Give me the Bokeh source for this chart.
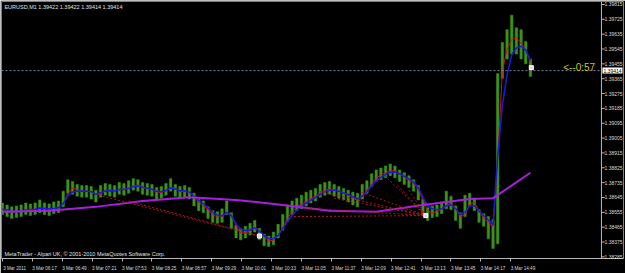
import pandas as pd
from bokeh.plotting import figure
from bokeh.models import FixedTicker, PrintfTickFormatter, Span, Label
from bokeh.embed import file_html
from bokeh.resources import INLINE

# ---- data (EURUSD M1, sampled every 5 minutes, minutes after 05:45) ----
bar_step = 5
close = [1.38576, 1.38565, 1.38553, 1.38559, 1.38565, 1.38576, 1.38571, 1.38576, 1.38588, 1.38576,
         1.38571, 1.38582, 1.38588, 1.38630, 1.38706, 1.38700, 1.38689, 1.38683, 1.38683, 1.38677,
         1.38647, 1.38683, 1.38694, 1.38689, 1.38683, 1.38700, 1.38694, 1.38706, 1.38724, 1.38718,
         1.38700, 1.38694, 1.38689, 1.38671, 1.38677, 1.38694, 1.38718, 1.38689, 1.38677, 1.38683,
         1.38671, 1.38630, 1.38600, 1.38588, 1.38553, 1.38529, 1.38523, 1.38529, 1.38576, 1.38512,
         1.38435, 1.38423, 1.38435, 1.38453, 1.38470, 1.38423, 1.38388, 1.38376, 1.38394, 1.38435,
         1.38494, 1.38541, 1.38576, 1.38600, 1.38612, 1.38630, 1.38647, 1.38659, 1.38683, 1.38694,
         1.38700, 1.38689, 1.38677, 1.38665, 1.38653, 1.38635, 1.38624, 1.38671, 1.38706, 1.38747,
         1.38777, 1.38789, 1.38801, 1.38812, 1.38801, 1.38777, 1.38759, 1.38742, 1.38718, 1.38671,
         1.38588, 1.38541, 1.38559, 1.38565, 1.38582, 1.38612, 1.38606, 1.38553, 1.38506, 1.38571,
         1.38630, 1.38600, 1.38529, 1.38506, 1.38482, 1.38453, 1.39308, 1.39514, 1.39573, 1.39632,
         1.39591, 1.39573, 1.39514, 1.39414]
high = [1.38612, 1.38600, 1.38588, 1.38594, 1.38600, 1.38612, 1.38606, 1.38612, 1.38630, 1.38612,
        1.38606, 1.38618, 1.38624, 1.38683, 1.38753, 1.38742, 1.38724, 1.38718, 1.38718, 1.38712,
        1.38689, 1.38718, 1.38730, 1.38724, 1.38718, 1.38736, 1.38730, 1.38747, 1.38759, 1.38753,
        1.38736, 1.38730, 1.38724, 1.38706, 1.38712, 1.38730, 1.38759, 1.38724, 1.38712, 1.38718,
        1.38706, 1.38671, 1.38635, 1.38624, 1.38588, 1.38565, 1.38559, 1.38576, 1.38624, 1.38553,
        1.38476, 1.38458, 1.38470, 1.38488, 1.38506, 1.38458, 1.38423, 1.38411, 1.38435, 1.38482,
        1.38541, 1.38600, 1.38624, 1.38641, 1.38659, 1.38677, 1.38689, 1.38700, 1.38724, 1.38736,
        1.38742, 1.38724, 1.38712, 1.38700, 1.38689, 1.38677, 1.38671, 1.38724, 1.38747, 1.38789,
        1.38812, 1.38824, 1.38836, 1.38848, 1.38836, 1.38812, 1.38795, 1.38777, 1.38753, 1.38718,
        1.38635, 1.38582, 1.38594, 1.38600, 1.38618, 1.38683, 1.38653, 1.38594, 1.38553, 1.38659,
        1.38671, 1.38641, 1.38571, 1.38547, 1.38529, 1.38512, 1.39396, 1.39585, 1.39662, 1.39750,
        1.39674, 1.39662, 1.39591, 1.39485]
low = [1.38541, 1.38529, 1.38518, 1.38523, 1.38529, 1.38541, 1.38535, 1.38541, 1.38553, 1.38541,
       1.38535, 1.38547, 1.38553, 1.38588, 1.38671, 1.38665, 1.38653, 1.38647, 1.38647, 1.38635,
       1.38618, 1.38647, 1.38659, 1.38653, 1.38647, 1.38665, 1.38659, 1.38671, 1.38689, 1.38683,
       1.38665, 1.38659, 1.38653, 1.38635, 1.38641, 1.38659, 1.38683, 1.38653, 1.38641, 1.38647,
       1.38635, 1.38594, 1.38565, 1.38553, 1.38518, 1.38494, 1.38488, 1.38494, 1.38541, 1.38458,
       1.38400, 1.38388, 1.38400, 1.38417, 1.38435, 1.38388, 1.38352, 1.38347, 1.38358, 1.38400,
       1.38447, 1.38500, 1.38541, 1.38565, 1.38576, 1.38594, 1.38612, 1.38624, 1.38647, 1.38659,
       1.38665, 1.38653, 1.38641, 1.38630, 1.38618, 1.38600, 1.38588, 1.38635, 1.38671, 1.38712,
       1.38742, 1.38753, 1.38765, 1.38777, 1.38765, 1.38742, 1.38724, 1.38706, 1.38683, 1.38630,
       1.38541, 1.38506, 1.38523, 1.38529, 1.38547, 1.38576, 1.38571, 1.38506, 1.38458, 1.38529,
       1.38594, 1.38565, 1.38494, 1.38470, 1.38394, 1.38335, 1.38364, 1.39367, 1.39485, 1.39514,
       1.39514, 1.39485, 1.39455, 1.39379]

# slow moving average (purple)
slow_ma_time = [0, 50, 100, 150, 200, 250, 300, 350, 400, 450, 500, 525, 565]
slow_ma_price = [1.38559, 1.38565, 1.38588, 1.38624, 1.38647, 1.38630, 1.38600,
                 1.38565, 1.38559, 1.38600, 1.38635, 1.38641, 1.38795]

# dotted trend (fan) lines
fan_start_time = [103, 135, 312, 320, 339, 355, 384, 409, 423, 435]
fan_start_price = [1.38659, 1.38624, 1.38529, 1.38582, 1.38683, 1.38641, 1.38677, 1.38777, 1.38718, 1.38689]
fan_end_time = [275, 275, 453, 453, 453, 453, 453, 453, 453, 453]
fan_end_price = [1.38411, 1.38411, 1.38535, 1.38535, 1.38535, 1.38535, 1.38535, 1.38535, 1.38535, 1.38535]

# signal markers
signal_time = [275, 453, 566]
signal_price = [1.38411, 1.38535, 1.39432]

current_price = 1.39414
x_tick_minutes = [0, 32, 64, 96, 128, 160, 192, 224, 256, 288, 320, 352, 384, 416, 448, 480, 512, 544]
x_tick_labels = ["3 Mar 2011", "3 Mar 06:17", "3 Mar 06:49", "3 Mar 07:21", "3 Mar 07:53",
                 "3 Mar 08:25", "3 Mar 08:57", "3 Mar 09:29", "3 Mar 10:01", "3 Mar 10:33",
                 "3 Mar 11:05", "3 Mar 11:37", "3 Mar 12:09", "3 Mar 12:41", "3 Mar 13:13",
                 "3 Mar 13:45", "3 Mar 14:17", "3 Mar 14:49"]
y_ticks = [1.38285, 1.38375, 1.38465, 1.38555, 1.38645, 1.38735, 1.38825, 1.38915, 1.39005,
           1.39095, 1.39185, 1.39275, 1.39365, 1.39455, 1.39545, 1.39635, 1.39725, 1.39815]

bar_time = [i * bar_step for i in range(len(close))]
s_close = pd.Series(close)
fast_ma = s_close.rolling(2, min_periods=1).mean().tolist()
mid_ma = s_close.ewm(span=3).mean().tolist()

FONT = "Liberation Sans"
AXC = "#b8b8b8"
X_END = 664.6          # frame covers the price-scale strip as well
SCALE_X = 641          # time position of the price-scale line

p = figure(width=625, height=273, output_backend="svg", toolbar_location=None,
           x_range=(-1, X_END), y_range=(1.38275, 1.39833),
           y_axis_location="right", background_fill_color="black",
           border_fill_color="black", min_border_left=1, min_border_top=1,
           min_border_right=0, min_border_bottom=0)
p.grid.visible = False
p.outline_line_color = "#808080"

# bottom time axis: labels to the right of their tick marks (MetaTrader style)
label_shift = 13
label_pos = [t + label_shift for t in x_tick_minutes]
xa = p.xaxis[0]
xa.ticker = FixedTicker(ticks=label_pos, minor_ticks=x_tick_minutes)
xa.major_label_overrides = {t: l for t, l in zip(label_pos, x_tick_labels)}
xa.axis_line_color = AXC
xa.major_tick_line_color = None
xa.minor_tick_line_color = AXC
xa.minor_tick_out = 3
xa.minor_tick_in = 0
xa.major_label_standoff = 1
xa.major_label_text_color = "#d8d8d8"
xa.major_label_text_font = FONT
xa.major_label_text_font_size = "4.6px"

# price scale: labels drawn inside the strip right of the scale line
ya = p.yaxis[0]
ya.ticker = FixedTicker(ticks=y_ticks)
ya.formatter = PrintfTickFormatter(format="%.5f")
ya.axis_line_color = None
ya.major_tick_line_color = None
ya.minor_tick_line_color = None
ya.major_tick_out = 0
ya.major_tick_in = 0
ya.major_label_standoff = -19
ya.major_label_text_color = "#d8d8d8"
ya.major_label_text_font = FONT
ya.major_label_text_font_size = "5px"

# scale line and its tick marks
p.add_layout(Span(location=SCALE_X, dimension="height", line_color=AXC, line_width=1))
p.segment(x0=[SCALE_X] * len(y_ticks), y0=y_ticks, x1=[SCALE_X + 3.5] * len(y_ticks), y1=y_ticks,
          line_color=AXC, line_width=1)

# price bars
p.vbar(x=bar_time, width=2.6, top=high, bottom=low, fill_color="#3a9418",
       line_color="#3a9418", line_width=0.5)
# moving averages
p.line(bar_time, fast_ma, line_color="#c81414", line_width=1)
p.line(bar_time, mid_ma, line_color="#1a1ad8", line_width=1.6)
p.line(slow_ma_time, slow_ma_price, line_color="#a81ee0", line_width=2)
# fan lines
p.segment(x0=fan_start_time, y0=fan_start_price, x1=fan_end_time, y1=fan_end_price,
          line_color="#b01818", line_dash="2 2", line_width=1)
p.scatter(signal_time, signal_price, marker="square", size=4, fill_color="#f0c8e8",
          line_color="white")

p.segment(x0=[-1], y0=[current_price], x1=[SCALE_X], y1=[current_price], line_color="#7a8aa0",
          line_dash="2 2", line_width=1)

p.add_layout(Label(x=0, y=1.39833, x_offset=2, y_offset=-2, text="EURUSD,M1  1.39422 1.39422 1.39414 1.39414",
                   text_color="#e0e0e0", text_font=FONT, text_font_size="5.5px",
                   text_baseline="top"))
p.add_layout(Label(x=0, y=1.38285, x_offset=2, text="MetaTrader - Alpari UK, © 2001-2010 MetaQuotes Software Corp.",
                   text_color="#e0e0e0", text_font=FONT, text_font_size="5.5px",
                   text_baseline="bottom"))
p.add_layout(Label(x=600, y=current_price, y_offset=3, text="<--0:57", text_color="#c8c814",
                   text_font=FONT, text_font_size="10px", text_baseline="middle"))
p.add_layout(Label(x=SCALE_X, x_offset=1, y=current_price, text="1.39414", text_color="black",
                   background_fill_color="white", text_font=FONT, text_font_size="5px",
                   text_baseline="middle", padding=1))

open("out.html", "w").write(file_html(p, INLINE))
